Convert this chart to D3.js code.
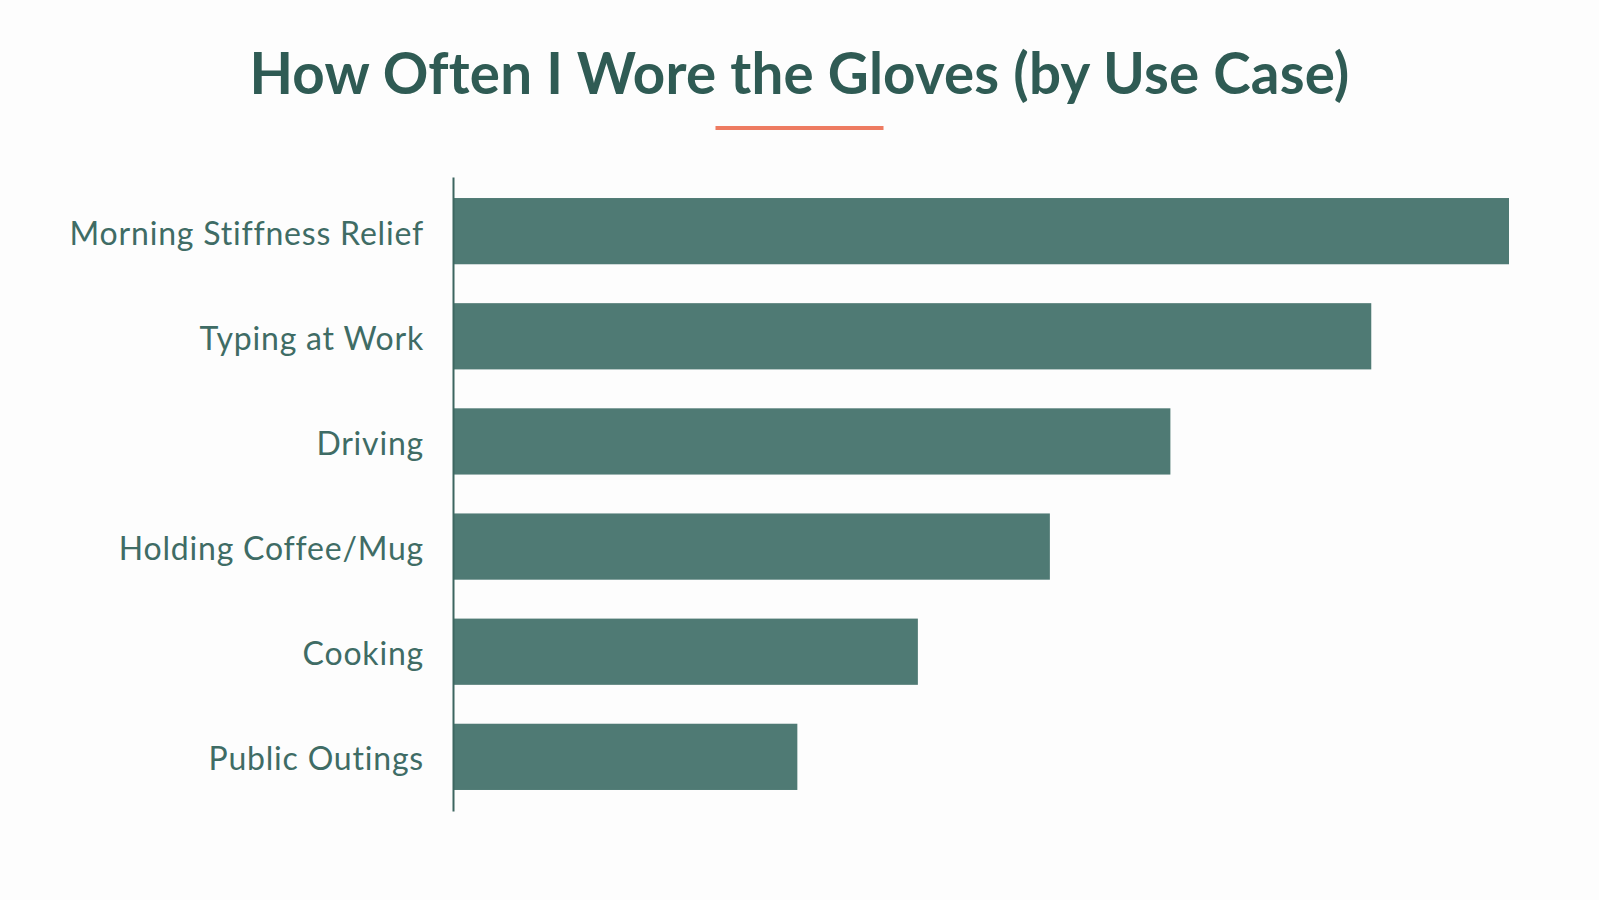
<!DOCTYPE html>
<html>
<head>
<meta charset="utf-8">
<script src="https://cdn.jsdelivr.net/npm/d3@7"></script>
<style>
  body { margin: 0; background: #fdfdfd; }
  svg { display: block; }
</style>
</head>
<body>
<div id="chart-area"></div>
<script>
// use cases, top to bottom
const categories = [
  "Morning Stiffness Relief",
  "Typing at Work",
  "Driving",
  "Holding Coffee/Mug",
  "Cooking",
  "Public Outings"
];
// how often worn (relative frequency)
const values = [92, 80, 62.5, 52, 40.5, 30];

const titleText = "How Often I Wore the Gloves (by Use Case)";

const W = 1599;
const H = 900;
const m = { t: 177, l: 453, r: 90, b: 89 };
const width = W - m.l - m.r;
const height = H - m.t - m.b;

const svg = d3.select("#chart-area")
  .append("svg")
  .attr("width", W)
  .attr("height", H);

svg.append("rect")
  .attr("width", W)
  .attr("height", H)
  .attr("fill", "#fdfdfd");

// title + accent rule
svg.append("text")
  .attr("x", W / 2)
  .attr("y", 94)
  .attr("text-anchor", "middle")
  .attr("font-family", "Lato, 'Open Sans', sans-serif")
  .attr("font-weight", 700)
  .attr("font-size", "56.5px")
  .attr("letter-spacing", "0.2px")
  .attr("fill", "#2f5b54")
  .text(titleText);

svg.append("line")
  .attr("x1", W / 2 - 84)
  .attr("x2", W / 2 + 84)
  .attr("y1", 128)
  .attr("y2", 128)
  .attr("stroke", "#ee7b61")
  .attr("stroke-width", 4);

const g = svg.append("g")
  .attr("transform", "translate(" + m.l + "," + m.t + ")");

const x = d3.scaleLinear()
  .domain([0, d3.max(values)])
  .range([0, 1509 - m.l]);

const y = d3.scaleBand()
  .domain(categories)
  .range([0, height])
  .paddingInner(0.37)
  .paddingOuter(0.2);

g.selectAll("rect.bar")
  .data(categories)
  .enter().append("rect")
  .attr("class", "bar")
  .attr("x", 0)
  .attr("y", d => y(d))
  .attr("width", (d, i) => x(values[i]))
  .attr("height", y.bandwidth())
  .attr("fill", "#4f7a74");

// left axis: plain line, labels only
const yAxis = g.append("g")
  .call(d3.axisLeft(y).tickSize(0).tickPadding(29));

yAxis.select(".domain")
  .attr("stroke", "#3d6660")
  .attr("stroke-width", 2);

yAxis.selectAll("text")
  .attr("font-family", "Lato, 'Open Sans', sans-serif")
  .attr("font-size", "32px")
  .attr("letter-spacing", "0.8px")
  .attr("dy", "0.42em")
  .attr("fill", "#3f6c65");
</script>
</body>
</html>
